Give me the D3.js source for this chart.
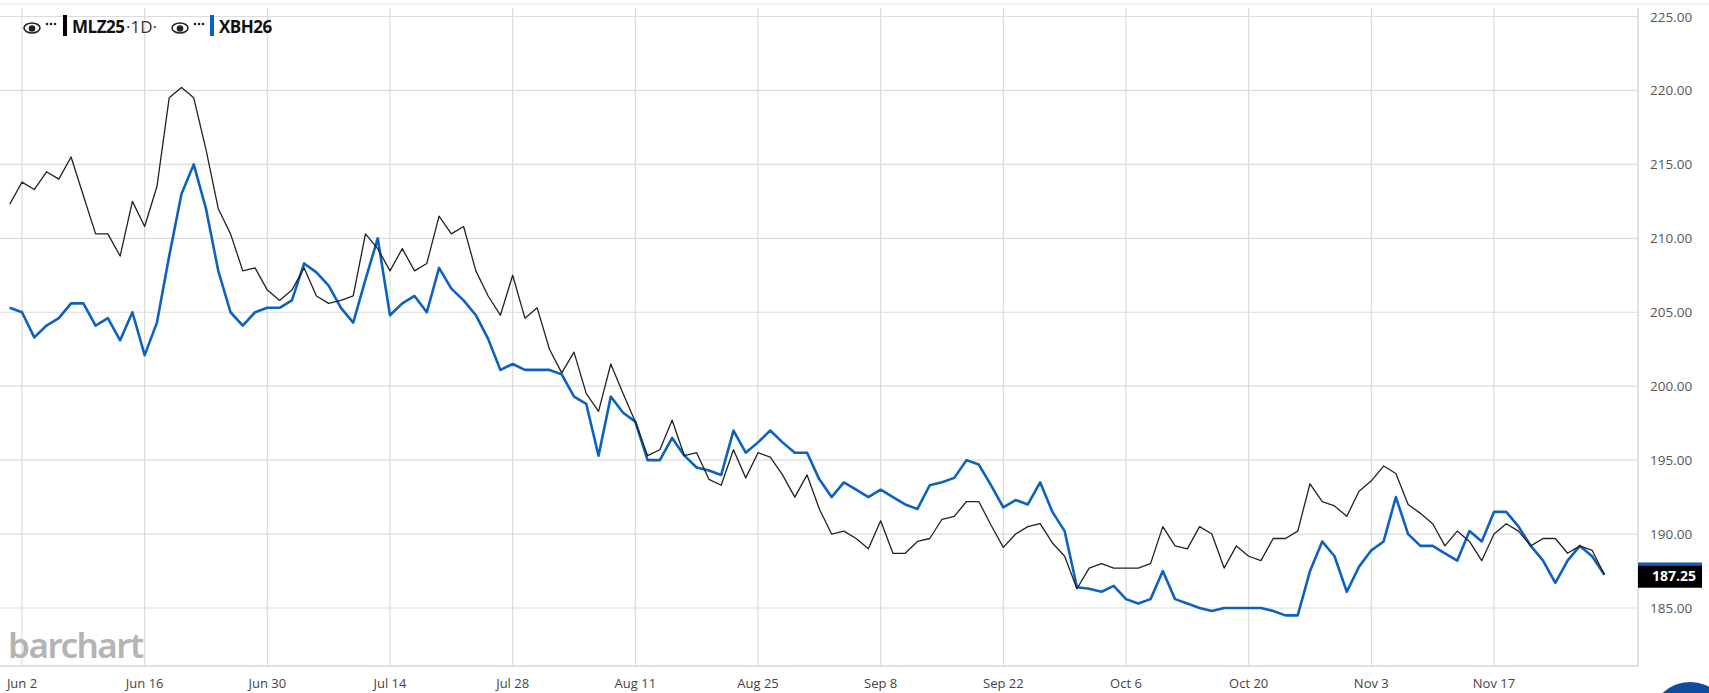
<!DOCTYPE html>
<html>
<head>
<meta charset="utf-8">
<script src="https://cdn.jsdelivr.net/npm/d3@7"></script>
<style>
  body { margin:0; background:#fff; overflow:hidden; }
  svg { display:block; font-family:"Open Sans", sans-serif; }
</style>
</head>
<body>
<svg id="chart" width="1709" height="693"></svg>
<script>
// trading-day index, -1 .. 129
var startIndex = -1
var mlz = [212.3,213.8,213.3,214.5,214.0,215.5,212.9,210.3,210.3,208.8,212.5,210.8,213.5,219.5,220.2,219.5,216.0,212.0,210.3,207.8,
  208.0,206.5,205.8,206.5,208.0,206.1,205.6,205.8,206.1,210.3,209.3,207.8,209.3,207.8,208.3,211.5,210.3,210.8,207.8,206.1,
  204.8,207.5,204.6,205.3,202.5,200.9,202.3,199.5,198.3,201.5,199.5,197.6,195.3,195.7,197.7,195.3,195.5,193.7,193.3,195.7,
  193.8,195.5,195.2,194.0,192.5,194.0,191.7,190.0,190.2,189.7,189.0,190.9,188.7,188.7,189.5,189.7,191.0,191.2,192.2,192.2,
  190.6,189.1,190.0,190.5,190.7,189.4,188.5,186.3,187.7,188.0,187.7,187.7,187.7,188.0,190.5,189.2,189.0,190.5,190.0,187.7,
  189.2,188.5,188.2,189.7,189.7,190.2,193.4,192.2,191.9,191.2,192.9,193.6,194.6,194.1,192.0,191.4,190.7,189.2,190.2,189.5,
  188.2,190.0,190.7,190.2,189.2,189.7,189.7,188.7,189.2,188.9,187.25]
var xbh = [205.3,205.0,203.3,204.1,204.6,205.6,205.6,204.1,204.6,203.1,205.0,202.1,204.3,208.8,213.0,215.0,212.0,207.8,205.0,204.1,
  205.0,205.3,205.3,205.8,208.3,207.7,206.8,205.3,204.3,207.2,210.0,204.8,205.6,206.1,205.0,208.0,206.6,205.8,204.8,203.2,
  201.1,201.5,201.1,201.1,201.1,200.8,199.3,198.8,195.3,199.3,198.2,197.6,195.0,195.0,196.5,195.3,194.5,194.3,194.0,197.0,
  195.5,196.2,197.0,196.2,195.5,195.5,193.7,192.5,193.5,193.0,192.5,193.0,192.5,192.0,191.7,193.3,193.5,193.8,195.0,194.7,
  193.3,191.8,192.3,192.0,193.5,191.5,190.2,186.4,186.3,186.1,186.5,185.6,185.3,185.6,187.5,185.6,185.3,185.0,184.8,185.0,
  185.0,185.0,185.0,184.8,184.5,184.5,187.5,189.5,188.5,186.1,187.8,188.9,189.5,192.5,190.0,189.2,189.2,188.7,188.2,190.2,
  189.5,191.5,191.5,190.5,189.2,188.2,186.7,188.2,189.2,188.5,187.25]
var tickIndex = [0,10,20,30,40,50,60,70,80,90,100,110,120]
var tickLabels = ['Jun 2','Jun 16','Jun 30','Jul 14','Jul 28','Aug 11','Aug 25','Sep 8','Sep 22','Oct 6','Oct 20','Nov 3','Nov 17']
var yTicks = [185,190,195,200,205,210,215,220,225]
var lastValue = 187.25

var svg = d3.select('#chart')
var x = d3.scaleLinear().domain([0,120]).range([22,1494])
var y = d3.scaleLinear().domain([185,225]).range([608,16.5])
var axisX = 1638, bottom = 666

// frame lines
svg.append('line').attr('x1',0).attr('x2',1709).attr('y1',4).attr('y2',4)
  .attr('stroke','#e4e4e4').attr('stroke-width',1)

// grid
svg.append('g').selectAll('line').data(yTicks).enter().append('line')
  .attr('x1',0).attr('x2',axisX)
  .attr('y1',function(d){ return y(d) }).attr('y2',function(d){ return y(d) })
  .attr('stroke','#dcdcdc').attr('stroke-width',1.2)
svg.append('g').selectAll('line').data(tickIndex).enter().append('line')
  .attr('x1',function(d){ return x(d) }).attr('x2',function(d){ return x(d) })
  .attr('y1',8).attr('y2',bottom)
  .attr('stroke','#dcdcdc').attr('stroke-width',1.2)
svg.append('line').attr('x1',0).attr('x2',axisX).attr('y1',bottom).attr('y2',bottom)
  .attr('stroke','#d6d6d6').attr('stroke-width',1.5)
svg.append('line').attr('x1',axisX).attr('x2',axisX).attr('y1',8).attr('y2',bottom)
  .attr('stroke','#d0d0d0').attr('stroke-width',1.2)

// watermark
svg.append('text').text('barchart')
  .attr('x',8).attr('y',658)
  .attr('fill','#b4b4b4')
  .style('font-family','"Noto Sans", sans-serif')
  .style('font-size','35px').style('font-weight',600).style('letter-spacing','-1.5px')

// x labels
svg.append('g').selectAll('text').data(tickIndex).enter().append('text')
  .attr('x',function(d){ return x(d) }).attr('y',688)
  .attr('text-anchor','middle')
  .attr('fill','#444')
  .style('font-size','13px')
  .text(function(d,i){ return tickLabels[i] })

// y labels
svg.append('g').selectAll('text').data(yTicks).enter().append('text')
  .attr('x',1650).attr('y',function(d){ return y(d)+5 })
  .attr('fill','#555')
  .style('font-size','13.5px')
  .text(function(d){ return d.toFixed(2) })

// lines
var line = d3.line()
  .x(function(d,i){ return x(i+startIndex) })
  .y(function(d){ return y(d) })
svg.append('path').datum(xbh).attr('d',line)
  .attr('fill','none').attr('stroke','#0d62c0').attr('stroke-width',2.6)
  .attr('stroke-linejoin','round')
svg.append('path').datum(mlz).attr('d',line)
  .attr('fill','none').attr('stroke','#222').attr('stroke-width',1.3)
  .attr('stroke-linejoin','round')

// last value tag
var ly = y(lastValue)
svg.append('rect').attr('x',axisX).attr('y',ly-12).attr('width',64).attr('height',25).attr('fill','#000')
svg.append('rect').attr('x',axisX).attr('y',ly-12).attr('width',64).attr('height',3).attr('fill','#0d62c0')
svg.append('text').text(lastValue.toFixed(2))
  .attr('x',axisX+58).attr('y',ly+6).attr('text-anchor','end')
  .attr('fill','#fff').style('font-size','14px').style('font-weight',700)

// legend
function eye(cx,cy) {
  svg.append('ellipse').attr('cx',cx).attr('cy',cy).attr('rx',8).attr('ry',5)
    .attr('fill','none').attr('stroke','#222').attr('stroke-width',1.6)
  svg.append('circle').attr('cx',cx).attr('cy',cy+0.5).attr('r',3.3).attr('fill','#222')
}
function dots(cx,cy) {
  svg.selectAll(null).data([0,1,2]).enter().append('circle')
    .attr('cx',function(d){ return cx+d*4 }).attr('cy',cy).attr('r',1.3).attr('fill','#222')
}
eye(32,28); dots(47,24)
svg.append('rect').attr('x',63).attr('y',15).attr('width',4).attr('height',21).attr('fill','#000')
svg.append('text').text('MLZ25').attr('x',72).attr('y',33)
  .attr('fill','#111').style('font-size','17px').style('font-weight',700).style('letter-spacing','-0.5px')
svg.append('text').text(' ·1D·').attr('x',126).attr('y',33)
  .attr('fill','#333').style('font-size','17px')
eye(180,28); dots(195,24)
svg.append('rect').attr('x',210).attr('y',15).attr('width',4).attr('height',21).attr('fill','#0d62c0')
svg.append('text').text('XBH26').attr('x',219).attr('y',33)
  .attr('fill','#111').style('font-size','17px').style('font-weight',700).style('letter-spacing','-0.5px')

// corner bubble
svg.append('circle').attr('cx',1690).attr('cy',722).attr('r',40).attr('fill','#0f4c9c')
</script>
</body>
</html>
